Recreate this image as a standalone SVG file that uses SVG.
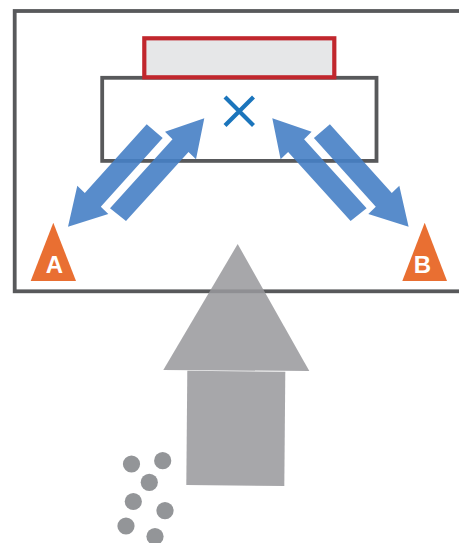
<svg xmlns="http://www.w3.org/2000/svg" width="459" height="543" viewBox="0 0 459 543">
  <style>
    .frame { fill: none; stroke: #58595b; stroke-width: 3.8; }
    .panel { fill: #e6e7e8; stroke: #c1272d; stroke-width: 4.2; }
    .flow { fill: #4680c5; fill-opacity: 0.9; }
    .mark { fill: #e96f32; }
    .lbl { font-family: "Liberation Sans", Arial, sans-serif; font-weight: bold; font-size: 24px; fill: #ffffff; text-anchor: middle; }
    .lift { fill: #98999c; fill-opacity: 0.86; }
    .dot { fill: #939598; }
  </style>

  <!-- room outline -->
  <g id="room">
    <rect class="frame" x="14.7" y="11" width="460" height="280.3"/>
  </g>

  <!-- unit housing and top panel -->
  <g id="unit">
    <rect class="frame" x="102.2" y="77.8" width="274.3" height="83.1"/>
  </g>
  <g id="panel">
    <rect class="panel" x="144.3" y="38.3" width="190" height="39"/>
  </g>

  <!-- centre point -->
  <g id="centre">
    <path d="M225 97 L253.5 125.5 M253.5 97 L225 125.5" stroke="#1b75bc" stroke-width="4.2" fill="none"/>
  </g>

  <!-- airflow arrows -->
  <g id="flows">
    <polygon class="flow" points="146.7,124.3 162.7,138 100.8,206.7 108.3,214 68,226.7 77.3,185.7 84.8,193"/>
    <polygon class="flow" points="110,208.3 172.5,139.2 165,131.7 204.3,118.3 196,159.3 188.5,151.9 126,221"/>
    <polygon class="flow" points="329.9,124.3 313.9,138 375.8,206.7 368.3,214 408.6,226.7 399.3,185.7 391.8,193"/>
    <polygon class="flow" points="366.6,208.3 304.1,139.2 311.6,131.7 272.3,118.3 280.6,159.3 288.1,151.9 350.6,221"/>
  </g>

  <!-- marker A -->
  <g id="marker-a">
    <polygon class="mark" points="53.3,222.7 76,281 30.7,281"/>
    <text class="lbl" x="54.5" y="272.5">A</text>
  </g>

  <!-- marker B -->
  <g id="marker-b">
    <polygon class="mark" points="424.7,222.7 447,281 402.3,281"/>
    <text class="lbl" x="422.5" y="272.5">B</text>
  </g>

  <!-- upward arrow -->
  <g id="lift">
    <polygon class="lift" points="237.7,244 309.3,371 163.3,370"/>
    <polygon class="lift" points="187.3,370.7 285.3,371.7 284.3,486 186.3,485"/>
  </g>

  <!-- particles -->
  <g id="particles">
    <circle class="dot" cx="131.5" cy="464" r="8.6"/>
    <circle class="dot" cx="162.7" cy="460.7" r="8.6"/>
    <circle class="dot" cx="149.3" cy="482.3" r="8.6"/>
    <circle class="dot" cx="133.3" cy="501.5" r="8.6"/>
    <circle class="dot" cx="165" cy="510.7" r="8.6"/>
    <circle class="dot" cx="126" cy="526" r="8.6"/>
    <circle class="dot" cx="155" cy="536.5" r="8.6"/>
  </g>
</svg>
